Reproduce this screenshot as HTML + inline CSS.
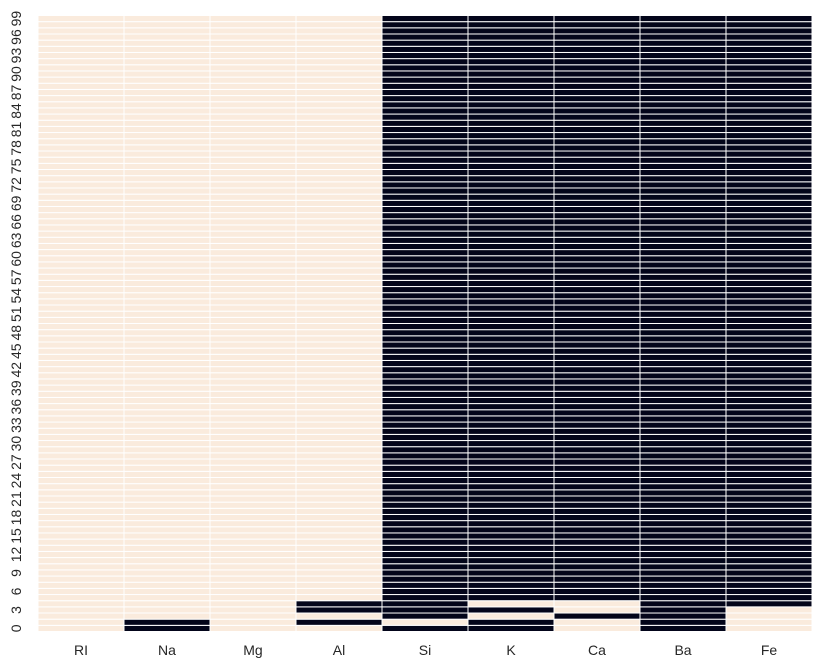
<!DOCTYPE html>
<html><head><meta charset="utf-8"><style>
html,body{margin:0;padding:0;background:#fff;width:828px;height:669px;overflow:hidden}
text{font-family:"Liberation Sans",Arial,sans-serif;fill:#262626;font-size:14px}
</style></head><body>
<svg id="chart" width="828" height="669" xmlns="http://www.w3.org/2000/svg"></svg>
<script>
const columns = ["RI","Na","Mg","Al","Si","K","Ca","Ba","Fe"];
const nRows = 100;
// bottom rows explicitly read (row index: values per column, 1 = dark)
const row0 = [0,1,0,0,1,1,0,1,0];
const row1 = [0,1,0,1,0,1,0,1,0];
const row2 = [0,0,0,0,1,0,1,1,0];
const row3 = [0,0,0,1,1,1,0,1,0];
const row4 = [0,0,0,1,1,0,0,1,1];
const restRow = [0,0,0,0,1,1,1,1,1];
const yTickStep = 3;

const svg = document.getElementById('chart');
const NS = 'http://www.w3.org/2000/svg';
const L = 38, R = 812, T = 15.5, B = 631.5;
const cw = (R - L) / columns.length, rh = (B - T) / nRows;
const xPos = i => L + i * cw;
const yPos = r => B - (r + 1) * rh;
const colors = ["#faebdd", "#03051a"];
function rowVals(r){ return [row0,row1,row2,row3,row4][r] || restRow; }

for (let r = 0; r < nRows; r++) {
  const vals = rowVals(r);
  for (let c = 0; c < columns.length; c++) {
    const rect = document.createElementNS(NS, 'rect');
    
    
    rect.setAttribute('x', xPos(c));
    rect.setAttribute('y', yPos(r));
    rect.setAttribute('width', cw);
    rect.setAttribute('height', rh);
    rect.setAttribute('fill', colors[vals[c]]);
    rect.setAttribute('stroke', '#fff');
    rect.setAttribute('stroke-width', '1');
    svg.appendChild(rect);
  }
}
columns.forEach((name, c) => {
  const t = document.createElementNS(NS, 'text');
  
  
  t.setAttribute('x', xPos(c) + cw / 2);
  t.setAttribute('y', 655);
  t.setAttribute('text-anchor', 'middle');
  t.textContent = name;
  svg.appendChild(t);
});
for (let r = 0; r < nRows; r += yTickStep) {
  const cy = yPos(r) + rh / 2;
  const t = document.createElementNS(NS, 'text');
  
  
  t.setAttribute('transform', `translate(21,${cy}) rotate(-90)`);
  t.setAttribute('text-anchor', 'middle');
  t.textContent = String(r);
  svg.appendChild(t);
}
</script>
</body></html>
